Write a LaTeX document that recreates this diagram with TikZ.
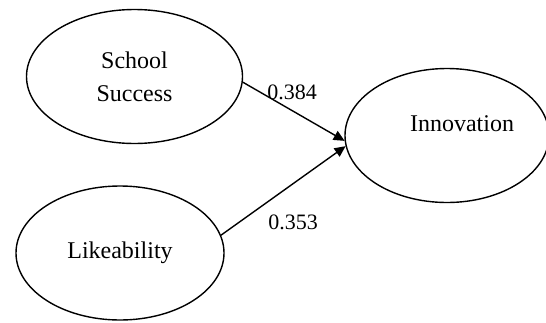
\documentclass[tikz,border=0pt]{standalone}
\usepackage{fontspec}
\setmainfont{Liberation Serif}
\usetikzlibrary{shapes.geometric, arrows.meta}
\tikzset{latent/.style={draw, ellipse, line width=0.7pt, inner sep=0pt, minimum height=67pt, align=center, font=\fontsize{12}{16.5}\selectfont},
         weight/.style={inner sep=0pt, font=\fontsize{11}{13}\selectfont},
         effect/.style={-{Triangle[length=5.5pt,width=5pt]}, line width=0.7pt},
        }

\begin{document}
\begin{tikzpicture}[x=0.5pt, y=-0.5pt]
        \useasboundingbox (0,0) rectangle (546,322);

        \node[latent, minimum width=108pt](ss)at(134.5,76.5){School\\Success};
        \node[latent, minimum width=102pt, label={[xshift=7.5pt, yshift=5.75pt, font=\fontsize{12}{14}\selectfont]center:Innovation}](inno)at(447,135.5){};
        \node[latent, minimum width=104pt](lk)at(120,253){Likeability};

        \draw[effect](ss.357)--(inno.183);
        \draw[effect](lk.10)--(inno.186);

        \node[weight](w1)at(292,92){0.384};
        \node[weight](w2)at(293,222){0.353};
    \end{tikzpicture}
\end{document}
